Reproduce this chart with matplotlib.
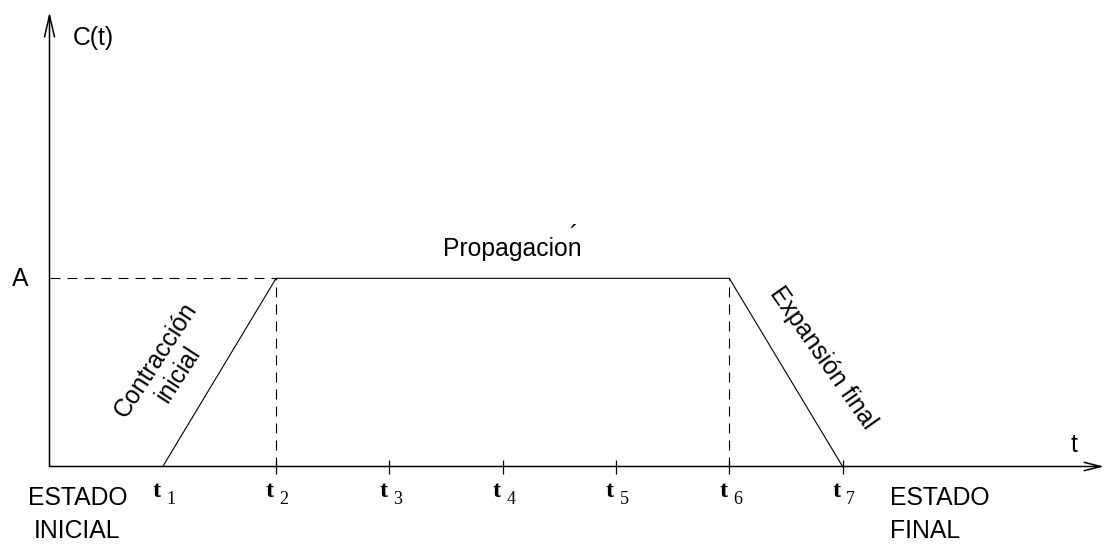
import matplotlib
matplotlib.use("Agg")
import matplotlib.pyplot as plt

# ---- data ----
t_indices = [1, 2, 3, 4, 5, 6, 7]
t_sub_labels = ["1", "2", "3", "4", "5", "6", "7"]
tick_positions = [2, 3, 4, 5, 6, 7]
curve_t = [1, 2, 6, 7]
curve_c = [0, 1, 1, 0]          # A = 1
A_level = 1
dash_vertical_at = [2, 6]

# ---- pixel <-> data mapping (layout) ----
W, H = 1105, 545
X0, SX = 49.5, 113.3
Y0, SY = 466.5, 188.2


def dx(px):
    return (px - X0) / SX


def dy(py):
    return (Y0 - py) / SY


fig = plt.figure(figsize=(W / 100, H / 100), dpi=100)
ax = fig.add_axes([0, 0, 1, 1])
ax.set_xlim(dx(0), dx(W))
ax.set_ylim(dy(H), dy(0))
ax.axis("off")

SANS = "Liberation Sans"
SERIF = "Liberation Serif"
FS = 17.8

# axes with open arrowheads
ax.annotate("", xy=(0, dy(12)), xytext=(0, 0),
            arrowprops=dict(arrowstyle="->,head_length=1.55,head_width=0.36",
                            lw=1.1, color="black", shrinkA=0, shrinkB=0,
                            mutation_scale=10))
ax.annotate("", xy=(dx(1104), 0), xytext=(0, 0),
            arrowprops=dict(arrowstyle="->,head_length=1.2,head_width=0.3",
                            lw=1.1, color="black", shrinkA=0, shrinkB=0,
                            mutation_scale=10))

# curve
ax.plot(curve_t, curve_c, color="black", lw=0.8, solid_capstyle="butt")

# dashed guides
dash = (0, (9.0, 6.3))
ax.plot([0, dash_vertical_at[0]], [A_level, A_level], color="black", lw=0.8, linestyle=dash)
for xv in dash_vertical_at:
    ax.plot([xv, xv], [0, A_level], color="black", lw=0.8, linestyle=dash)

# ticks
ax.vlines(tick_positions, -7 / SY, 7 / SY, color="black", lw=0.9)

# tick labels t_i
for ti, lab in zip(t_indices, t_sub_labels):
    xp = X0 + SX * ti
    ax.text(dx(xp - 2.0), dy(497), "t", ha="right", va="baseline",
            fontsize=17.5, family=SERIF, fontweight="bold")
    ax.text(dx(xp + 3.5), dy(503.5), lab, ha="left", va="baseline",
            fontsize=13, family=SERIF)

# axis labels
ax.text(dx(73), dy(45), "C(t)", ha="left", va="baseline", fontsize=FS, family=SANS)
ax.text(dx(20.5), dy(286), "A", ha="center", va="baseline", fontsize=FS, family=SANS)
ax.text(dx(1074.5), dy(452), "t", ha="center", va="baseline", fontsize=FS, family=SANS)

# region labels
ax.text(dx(443), dy(256), "Propagacion", ha="left", va="baseline", fontsize=FS, family=SANS)
ax.text(dx(573), dy(243), "\u00b4", ha="center", va="baseline", fontsize=FS, family=SANS)

ax.text(dx(167), dy(367), "Contracción\ninicial", ha="center", va="center",
        rotation=57, rotation_mode="anchor", multialignment="center",
        fontsize=FS, family=SANS, linespacing=1.2)
ax.text(dx(823), dy(358), "Expansión final", ha="center", va="center",
        rotation=-55, rotation_mode="anchor", fontsize=FS, family=SANS)

ax.text(dx(77.5), dy(505), "ESTADO", ha="center", va="baseline", fontsize=FS, family=SANS)
ax.text(dx(77.5), dy(538), "INICIAL", ha="center", va="baseline", fontsize=FS, family=SANS)
ax.text(dx(890), dy(505), "ESTADO", ha="left", va="baseline", fontsize=FS, family=SANS)
ax.text(dx(890), dy(537.5), "FINAL", ha="left", va="baseline", fontsize=FS, family=SANS)

fig.savefig("out.png", dpi=100, facecolor="white")
